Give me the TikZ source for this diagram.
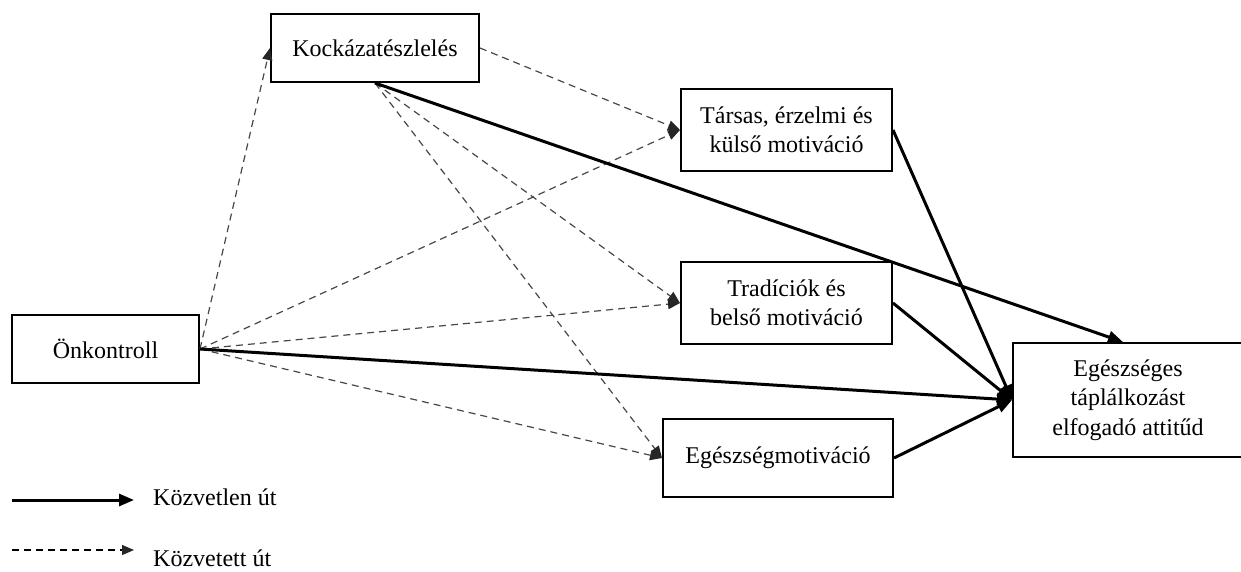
\documentclass[tikz,border=0pt]{standalone}
\usepackage{fontspec}
\setmainfont{Liberation Serif}
\usetikzlibrary{arrows.meta}
\begin{document}
\begin{tikzpicture}[x=1pt,y=-1pt,
  txt/.style={font=\fontsize{24}{29.5}\selectfont},
  box/.style={txt, draw, line width=2pt, rectangle, inner sep=0pt, align=center},
  direct/.style={line width=3pt, -{Triangle[length=15pt,width=12pt]}},
  indirect/.style={line width=1.2pt, draw=black!72, dash pattern=on 7pt off 5pt,
    -{Triangle[length=12pt,width=10pt,color=black!85]}}
]
\useasboundingbox (0,0) rectangle (1241,571);

% constructs
\node[box, minimum width=187pt, minimum height=68pt] (onk)  at (105.5,349) {Önkontroll};
\node[box, minimum width=208pt, minimum height=68pt] (kock) at (375,48)    {Kockázatészlelés};
\node[box, minimum width=211pt, minimum height=82pt] (tars) at (786.5,130) {Társas, érzelmi és\\külső motiváció};
\node[box, minimum width=211pt, minimum height=82pt] (trad) at (786.5,303) {Tradíciók és\\belső motiváció};
\node[box, minimum width=230pt, minimum height=78pt] (egm)  at (778,458)   {Egészségmotiváció};
\node[box, minimum width=230pt, minimum height=114pt] (att) at (1128,400)  {Egészséges\\táplálkozást\\elfogadó attitűd};

% indirect paths
\draw[indirect] (onk.east) -- (kock.west);
\draw[indirect] (onk.east) -- (tars.west);
\draw[indirect] (onk.east) -- (trad.west);
\draw[indirect] (onk.east) -- (egm.west);
\draw[indirect] (kock.east) -- (tars.west);
\draw[indirect] (kock.south) -- (trad.west);
\draw[indirect] (kock.south) -- (egm.west);

% direct paths
\draw[direct] (kock.south) -- ([xshift=-5pt]att.north);
\draw[direct] (onk.east) -- (att.west);
\draw[direct] (tars.east) -- (att.west);
\draw[direct] (trad.east) -- (att.west);
\draw[direct] (egm.east) -- (att.west);

% legend
\coordinate (d1) at (12,500);
\coordinate (d2) at (134,500);
\coordinate (i1) at (12,550);
\coordinate (i2) at (134,550);
\draw[direct] (d1) -- (d2);
\draw[indirect, draw=black] (i1) -- (i2);
\node[txt, anchor=base west, inner sep=0pt] (ldir) at (153,505) {Közvetlen út};
\node[txt, anchor=base west, inner sep=0pt] (lind) at (153,566) {Közvetett út};
\end{tikzpicture}
\end{document}
